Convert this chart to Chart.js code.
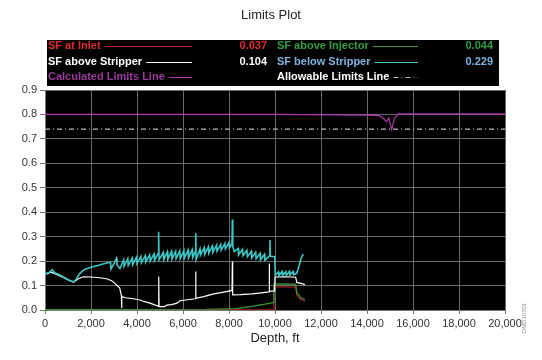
<!DOCTYPE html>
<html>
<head>
<meta charset="utf-8">
<script src="https://cdn.jsdelivr.net/npm/chart.js@4/dist/chart.umd.min.js"></script>
<style>
  html, body { margin: 0; padding: 0; background: #fff; }
  #wrap { width: 542px; height: 360px; }
</style>
</head>
<body>
<div id="wrap"><canvas id="chart" width="542" height="360"></canvas></div>
<script>
// ─── Данные (глубина, ft / SF) ────────────────────────────────────────────────

const inletDepth = [0, 9950, 9960, 10900, 10950, 11100, 11300]
const inletSF    = [0.001, 0.001, 0.095, 0.094, 0.06, 0.045, 0.037]

const injectorDepth = [0, 7000, 8300, 9000, 9930, 9950, 10500, 10900, 10950, 11050, 11100, 11300]
const injectorSF    = [0.002, 0.003, 0.006, 0.015, 0.03, 0.106, 0.107, 0.105, 0.07, 0.06, 0.05, 0.044]

const aboveStripperDepth = [
    0, 250, 400, 800, 1000, 1250, 1450, 1670, 2000, 2300, 2680, 2900, 3000, 3120, 3250,
    3320, 3330, 3345, 3500, 3840, 4130, 4300, 4565, 4800, 4930, 4945, 4960, 5200, 5300,
    5500, 5740, 5870, 6200, 6540, 6550, 6565, 6900, 7330, 7600, 7826, 8130, 8145, 8160,
    8500, 9000, 9400, 9740, 9750, 9765, 9980, 10000, 10500, 10900, 10950, 11100, 11300
]
const aboveStripperSF = [
    0.148, 0.155, 0.15, 0.133, 0.123, 0.114, 0.128, 0.136, 0.135, 0.133, 0.128, 0.12, 0.112, 0.102, 0.09,
    0.06, 0.008, 0.055, 0.05, 0.046, 0.041, 0.035, 0.028, 0.02, 0.016, 0.136, 0.014, 0.014, 0.02,
    0.022, 0.028, 0.038, 0.042, 0.046, 0.157, 0.048, 0.055, 0.066, 0.07, 0.074, 0.08, 0.198, 0.062,
    0.063, 0.066, 0.07, 0.074, 0.19, 0.076, 0.078, 0.135, 0.136, 0.134, 0.112, 0.11, 0.104
]

const belowStripperDepth = [
    0, 120, 250, 320, 420, 600, 800, 1000, 1150, 1250, 1350, 1500, 1700, 2000, 2300, 2600,
    2850, 2870, 3000, 3110, 3130, 3260,
    3420, 3440, 3600, 3620, 3790, 3810, 3980, 4000, 4170, 4190, 4360, 4380, 4550, 4570, 4740, 4760,
    4920, 4940, 4960,
    5140, 5160, 5320, 5340, 5500, 5520, 5680, 5700, 5860, 5880, 6040, 6060, 6220, 6240, 6400, 6420,
    6540, 6555, 6570,
    6740, 6760, 6920, 6940, 7100, 7120, 7280, 7300, 7460, 7480, 7640, 7660, 7820, 7840, 8000, 8020,
    8130, 8145, 8165, 8230,
    8400, 8420, 8590, 8610, 8780, 8800, 8970, 8990, 9160, 9180, 9350, 9370, 9540, 9560,
    9760, 9780, 9800, 9990, 10010,
    10150, 10170, 10310, 10330, 10470, 10490, 10630, 10650, 10790, 10810, 10940, 11015, 11130, 11230
]
const belowStripperSF = [
    0.15, 0.148, 0.158, 0.165, 0.152, 0.145, 0.135, 0.125, 0.118, 0.115, 0.125, 0.148, 0.165, 0.175, 0.182, 0.19,
    0.195, 0.168, 0.19, 0.212, 0.185, 0.17,
    0.205, 0.178, 0.21, 0.182, 0.212, 0.185, 0.216, 0.19, 0.22, 0.193, 0.222, 0.196, 0.226, 0.2, 0.23, 0.202,
    0.232, 0.32, 0.205,
    0.235, 0.205, 0.238, 0.207, 0.24, 0.208, 0.24, 0.21, 0.242, 0.21, 0.243, 0.212, 0.245, 0.213, 0.246, 0.215,
    0.24, 0.314, 0.207,
    0.25, 0.225, 0.255, 0.228, 0.258, 0.232, 0.262, 0.236, 0.265, 0.24, 0.268, 0.245, 0.272, 0.25, 0.276, 0.255,
    0.27, 0.37, 0.259, 0.24,
    0.252, 0.225, 0.248, 0.222, 0.244, 0.218, 0.24, 0.213, 0.236, 0.21, 0.232, 0.205, 0.228, 0.203,
    0.222, 0.286, 0.22, 0.218, 0.143,
    0.156, 0.14, 0.158, 0.142, 0.157, 0.141, 0.158, 0.143, 0.157, 0.144, 0.15, 0.17, 0.211, 0.229
]

const calcDepth = [0, 10000, 14000, 14500, 14640, 14850, 14950, 15070, 15200, 15360, 20000]
const calcSF    = [0.8, 0.8, 0.797, 0.795, 0.79, 0.77, 0.785, 0.739, 0.785, 0.802, 0.802]

const allowDepth = [0, 20000]
const allowSF    = [0.74, 0.74]

const xTicks = { min: 0, max: 20000, step: 2000 }
const yTicks = { min: 0, max: 0.9, step: 0.05 }

const FONT = '"Liberation Sans", Arial, sans-serif'

const pts = (xs, ys) => xs.map((x, i) => ({ x, y: ys[i] }))

// ─── Заголовок и легенда в чёрной плашке ──────────────────────────────────────

const legendBox = {
    id: 'legendBox',
    afterDraw(chart) {
        const ctx = chart.ctx
        const ds = chart.data.datasets
        ctx.save()

        ctx.font = '13px ' + FONT
        ctx.fillStyle = '#222'
        ctx.textAlign = 'center'
        ctx.textBaseline = 'middle'
        ctx.fillText('Limits Plot', 271, 15)

        ctx.fillStyle = '#000'
        ctx.fillRect(47, 40, 452, 46)

        const rows = [46, 62, 77]
        const cols = [{ x: 48, lineEnd: 192, valX: 267 }, { x: 277, lineEnd: 418, valX: 493 }]
        ctx.font = 'bold 11px ' + FONT

        ds.forEach(d => {
            const c = cols[d.legendCol]
            const y = rows[d.legendRow]
            ctx.textAlign = 'left'
            ctx.fillStyle = d.textColor
            ctx.fillText(d.label, c.x, y)
            const w = ctx.measureText(d.label).width
            ctx.strokeStyle = d.borderColor
            ctx.lineWidth = 1
            ctx.setLineDash(d.borderDash || [])
            ctx.beginPath()
            ctx.moveTo(c.x + w + 4, y + 0.5)
            ctx.lineTo(c.lineEnd, y + 0.5)
            ctx.stroke()
            ctx.setLineDash([])
            if (d.showValue) {
                ctx.textAlign = 'right'
                const last = d.data[d.data.length - 1].y
                ctx.fillText(last.toFixed(3), c.valX, y)
            }
        })

        // номер рисунка справа
        ctx.translate(524, 318)
        ctx.rotate(-Math.PI / 2)
        ctx.font = '6px ' + FONT
        ctx.fillStyle = '#888'
        ctx.textAlign = 'center'
        ctx.fillText('DMD10701', 0, 0)
        ctx.restore()
    }
}

const plotBackground = {
    id: 'plotBackground',
    beforeDraw(chart) {
        const { ctx, chartArea: a } = chart
        ctx.save()
        ctx.fillStyle = '#000'
        ctx.fillRect(a.left, a.top, a.right - a.left, a.bottom - a.top)
        ctx.restore()
    }
}

new Chart(document.getElementById('chart'), {
    type: 'line',
    data: {
        datasets: [
            {
                label: 'SF at Inlet', data: pts(inletDepth, inletSF),
                borderColor: '#b02020', textColor: '#e02b2b', legendRow: 0, legendCol: 0, showValue: true, order: 4,
            },
            {
                label: 'SF above Injector', data: pts(injectorDepth, injectorSF),
                borderColor: '#3a9a30', textColor: '#2f9f3f', legendRow: 0, legendCol: 1, showValue: true, order: 3,
            },
            {
                label: 'SF above Stripper', data: pts(aboveStripperDepth, aboveStripperSF),
                borderColor: '#ffffff', textColor: '#ffffff', legendRow: 1, legendCol: 0, showValue: true, order: 2,
            },
            {
                label: 'SF below Stripper', data: pts(belowStripperDepth, belowStripperSF),
                borderColor: '#3cc6c6', textColor: '#7ab6e2', borderWidth: 1.6,
                legendRow: 1, legendCol: 1, showValue: true, order: 1,
            },
            {
                label: 'Calculated Limits Line', data: pts(calcDepth, calcSF),
                borderColor: '#b035b0', textColor: '#9a3a9a', legendRow: 2, legendCol: 0, showValue: false, order: 5,
            },
            {
                label: 'Allowable Limits Line', data: pts(allowDepth, allowSF),
                borderColor: '#b8b8b8', textColor: '#ffffff', borderDash: [5, 3, 1, 3],
                legendRow: 2, legendCol: 1, showValue: false, order: 6,
            },
        ]
    },
    options: {
        responsive: false,
        animation: false,
        devicePixelRatio: 1,
        layout: { padding: { left: 0, right: 37, top: 90, bottom: 0 } },
        elements: {
            point: { radius: 0 },
            line: { borderWidth: 1.2, tension: 0 },
        },
        plugins: {
            legend: { display: false },
            tooltip: { enabled: false },
        },
        scales: {
            x: {
                type: 'linear',
                min: xTicks.min, max: xTicks.max,
                afterFit: s => { s.height = 50 },
                ticks: { stepSize: xTicks.step, color: '#333', font: { family: FONT, size: 11 }, padding: 3, maxRotation: 0 },
                grid: { color: '#6a6a6a', tickColor: '#777', tickLength: 4 },
                border: { color: '#777' },
                title: {
                    display: true, text: 'Depth, ft', color: '#222',
                    font: { family: FONT, size: 13 }, padding: { top: 0, bottom: 14 },
                },
            },
            y: {
                min: yTicks.min, max: yTicks.max,
                afterFit: s => { s.width = 45 },
                ticks: {
                    stepSize: yTicks.step, color: '#333', font: { family: FONT, size: 11 }, padding: 3,
                    callback: (v, i) => i % 2 === 0 ? v.toFixed(1) : '',
                },
                grid: {
                    color: c => c.index % 2 === 0 ? '#6a6a6a' : 'transparent',
                    tickColor: '#777', tickLength: 5,
                },
                border: { color: '#777' },
            },
        },
    },
    plugins: [plotBackground, legendBox],
})
</script>
</body>
</html>
